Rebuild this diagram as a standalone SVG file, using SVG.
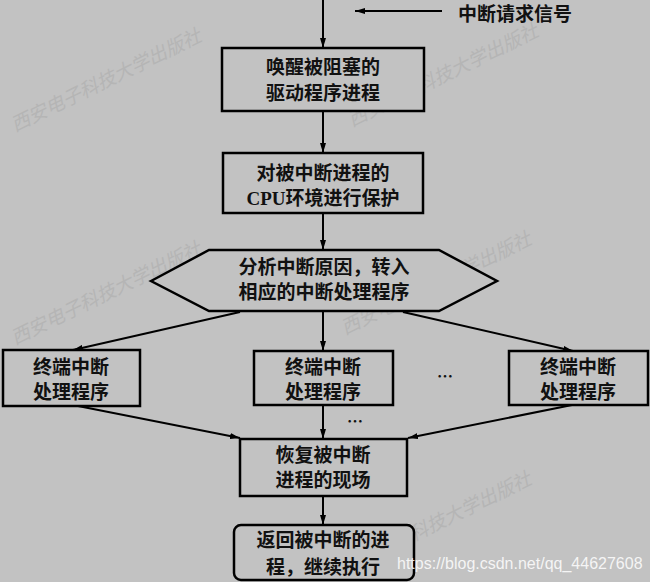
<svg xmlns="http://www.w3.org/2000/svg" width="650" height="582" viewBox="0 0 650 582">
<style>
  .bg { fill: #c2c2c2; }
  .box { fill: #c2c2c2; stroke: #000; stroke-width: 2.5; }
  .t { font-family: "Noto Sans CJK SC", "Noto Sans", sans-serif; font-size: 19px; font-weight: bold; fill: #111; text-anchor: middle; }
  .lat { font-family: "Liberation Serif", serif; font-weight: bold; }
  .wire { stroke: #000; stroke-width: 2; fill: none; }
  .wm { font-family: "Noto Sans CJK SC", sans-serif; font-size: 19px; fill: #b5b5b5; font-style: italic; }
  .url { font-family: "Liberation Sans", Arial, sans-serif; font-size: 16px; fill: #ffffff; fill-opacity: 0.85; }
</style>
<defs>
  <marker id="arr" markerUnits="userSpaceOnUse" markerWidth="11" markerHeight="6" refX="10" refY="3" orient="auto">
    <path d="M0,0 L10,3 L0,6 z" fill="#000"/>
  </marker>
</defs>
<rect class="bg" x="0" y="0" width="650" height="582"/>

<g id="watermarks">
  <text class="wm" transform="translate(15,132) rotate(-26)">西安电子科技大学出版社</text>
  <text class="wm" transform="translate(352,127) rotate(-26)">西安电子科技大学出版社</text>
  <text class="wm" transform="translate(15,345) rotate(-26)">西安电子科技大学出版社</text>
  <text class="wm" transform="translate(345,335) rotate(-26)">西安电子科技大学出版社</text>
  <text class="wm" transform="translate(345,575) rotate(-26)">西安电子科技大学出版社</text>
</g>

<g id="connectors">
  <line class="wire" x1="323" y1="0" x2="323" y2="48" marker-end="url(#arr)"/>
  <line class="wire" x1="442" y1="11" x2="355" y2="11" marker-end="url(#arr)"/>
  <line class="wire" x1="323" y1="111" x2="323" y2="153" marker-end="url(#arr)"/>
  <line class="wire" x1="323" y1="213" x2="323" y2="250" marker-end="url(#arr)"/>
  <line class="wire" x1="240" y1="312" x2="73" y2="350" marker-end="url(#arr)"/>
  <line class="wire" x1="323" y1="312" x2="323" y2="351" marker-end="url(#arr)"/>
  <line class="wire" x1="403" y1="312" x2="573" y2="351" marker-end="url(#arr)"/>
  <line class="wire" x1="78" y1="406" x2="240" y2="438" marker-end="url(#arr)"/>
  <line class="wire" x1="323" y1="405" x2="323" y2="439" marker-end="url(#arr)"/>
  <line class="wire" x1="572" y1="405" x2="408" y2="438" marker-end="url(#arr)"/>
  <line class="wire" x1="323" y1="496" x2="323" y2="525" marker-end="url(#arr)"/>
</g>

<g id="signal">
  <text class="t" x="458" y="21" style="text-anchor:start">中断请求信号</text>
</g>

<g id="wake">
  <rect class="box" x="222" y="48" width="202" height="63"/>
  <text class="t" x="323" y="74">唤醒被阻塞的</text>
  <text class="t" x="323" y="100">驱动程序进程</text>
</g>

<g id="protect">
  <rect class="box" x="223" y="153" width="200" height="60"/>
  <text class="t" x="323" y="180">对被中断进程的</text>
  <text class="t" x="323" y="205"><tspan class="lat">CPU</tspan>环境进行保护</text>
</g>

<g id="analyze">
  <polygon class="box" points="151,281 209,250 439,250 497,281 439,311 209,311"/>
  <text class="t" x="324" y="274">分析中断原因，转入</text>
  <text class="t" x="324" y="299">相应的中断处理程序</text>
</g>

<g id="handler1">
  <rect class="box" x="3" y="350" width="137" height="56"/>
  <text class="t" x="71" y="374">终端中断</text>
  <text class="t" x="71" y="399">处理程序</text>
</g>

<g id="handler2">
  <rect class="box" x="254" y="351" width="139" height="54"/>
  <text class="t" x="323" y="374">终端中断</text>
  <text class="t" x="323" y="399">处理程序</text>
</g>

<g id="dots1">
  <text class="t" x="445" y="382" style="font-size:16px">…</text>
</g>

<g id="handler3">
  <rect class="box" x="509" y="351" width="139" height="54"/>
  <text class="t" x="578" y="374">终端中断</text>
  <text class="t" x="578" y="399">处理程序</text>
</g>

<g id="dots2">
  <text class="t" x="355" y="427" style="font-size:16px">…</text>
</g>

<g id="restore">
  <rect class="box" x="240" y="439" width="167" height="57"/>
  <text class="t" x="323" y="462">恢复被中断</text>
  <text class="t" x="323" y="487">进程的现场</text>
</g>

<g id="return">
  <rect class="box" x="234" y="525" width="180" height="55" rx="7" ry="7"/>
  <text class="t" x="323" y="547">返回被中断的进</text>
  <text class="t" x="323" y="574">程，继续执行</text>
</g>

<text class="url" x="397" y="569">https://blog.csdn.net/qq_44627608</text>
</svg>
